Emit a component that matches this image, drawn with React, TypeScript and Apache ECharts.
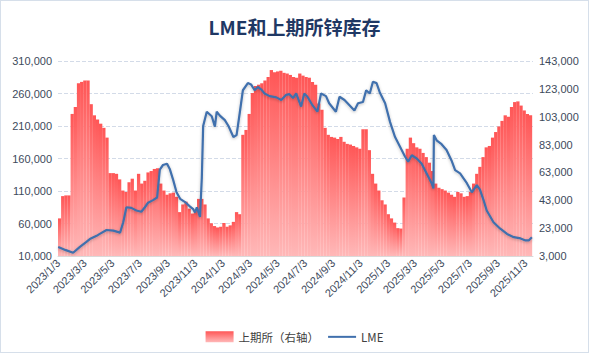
import React, { useEffect, useRef } from 'react';
import * as echarts from 'echarts';

// ---------- Data ----------
const firstDay = '2023/1/3';
const lastDay = '2025/11/19';

// calendar-day categories of the date axis
function buildDays(start: string, end: string): string[] {
  const [ys, ms, ds] = start.split('/').map(Number);
  const [ye, me, de] = end.split('/').map(Number);
  const out: string[] = [];
  let t = Date.UTC(ys, ms - 1, ds);
  const tEnd = Date.UTC(ye, me - 1, de);
  while (t <= tEnd) {
    const d = new Date(t);
    out.push(`${d.getUTCFullYear()}/${d.getUTCMonth() + 1}/${d.getUTCDate()}`);
    t += 86400000;
  }
  return out;
}
const dayCategories = buildDays(firstDay, lastDay);

// months whose day-3 carries a tick label
const labelMonths = [1, 3, 5, 7, 9, 11];
const labelDay = 3;

// SHFE zinc inventory (right axis), one value per week starting 2023/1/3
const shfeWeekly = [
  30000, 46000, 46500, 46500, 105000, 110000, 127000, 128000, 129000, 129000,
  112000, 104000, 101000, 98000, 95000, 88000, 62500, 62500, 62000, 58000,
  50000, 49000, 56000, 58500, 50000, 62000, 55000, 57000, 63000, 64000,
  65500, 66000, 55000, 50000, 47000, 48000, 48500, 45500, 34500, 40000,
  42000, 37000, 33500, 36000, 44000, 44000, 40000, 30000, 26500, 24500,
  23500, 24000, 26700, 24000, 25000, 27500, 34500, 33000, 90000, 93500,
  105000, 120000, 125000, 126000, 127000, 129000, 131500, 136500, 135000, 135500,
  136000, 134500, 134000, 133000, 131500, 131000, 134000, 132500, 131500, 131000,
  128000, 126000, 112500, 108000, 95000, 90000, 88500, 88000, 87000, 88500,
  85000, 83500, 83000, 82000, 81000, 80000, 94000, 94000, 79000, 62000,
  55000, 50000, 43000, 40000, 33000, 30000, 27000, 23000, 22700, 45000,
  80000, 88000, 84000, 81000, 80000, 77000, 74000, 70000, 64000, 55000,
  52000, 51000, 50000, 48500, 47000, 45500, 49000, 48000, 45500, 46000,
  49000, 55000, 62000, 67000, 74000, 81000, 82000, 88000, 92000, 96000,
  100000, 104000, 103000, 110000, 113500, 114000, 111000, 107500, 105000, 104000,
];
const daysPerWeek = 7;

// LME zinc inventory (left axis)
const lmeDates = [
  '2023/1/3', '2023/1/20', '2023/2/5', '2023/2/20', '2023/3/5', '2023/3/14', '2023/3/29', '2023/4/5',
  '2023/4/20', '2023/5/5', '2023/5/20', '2023/5/27', '2023/6/3', '2023/6/14', '2023/6/25', '2023/7/6',
  '2023/7/14', '2023/7/21', '2023/8/1', '2023/8/10', '2023/8/16', '2023/8/23', '2023/9/1', '2023/9/7',
  '2023/9/15', '2023/9/22', '2023/9/30', '2023/10/11', '2023/10/22', '2023/10/29', '2023/11/2', '2023/11/6',
  '2023/11/13', '2023/11/17', '2023/11/20', '2023/11/28', '2023/12/9', '2023/12/16', '2023/12/20', '2023/12/27',
  '2024/1/7', '2024/1/15', '2024/1/26', '2024/2/2', '2024/2/9', '2024/2/16', '2024/2/27', '2024/3/5',
  '2024/3/13', '2024/3/20', '2024/3/28', '2024/4/4', '2024/4/15', '2024/4/30', '2024/5/11', '2024/5/22',
  '2024/5/29', '2024/6/6', '2024/6/13', '2024/6/20', '2024/6/24', '2024/7/1', '2024/7/8', '2024/7/19',
  '2024/7/30', '2024/8/7', '2024/8/18', '2024/8/25', '2024/9/9', '2024/9/17', '2024/9/28', '2024/10/9',
  '2024/10/20', '2024/10/28', '2024/11/8', '2024/11/15', '2024/11/23', '2024/11/30', '2024/12/8', '2024/12/15',
  '2024/12/27', '2025/1/7', '2025/1/18', '2025/1/29', '2025/2/9', '2025/2/16', '2025/2/24', '2025/3/7',
  '2025/3/18', '2025/3/29', '2025/4/9', '2025/4/13', '2025/4/14', '2025/4/20', '2025/5/1', '2025/5/12',
  '2025/5/23', '2025/5/31', '2025/6/11', '2025/6/26', '2025/7/7', '2025/7/18', '2025/7/25', '2025/8/2',
  '2025/8/9', '2025/8/24', '2025/9/8', '2025/9/23', '2025/10/8', '2025/10/23', '2025/11/3', '2025/11/10',
  '2025/11/17',
];
const lmeValues = [
  24000, 19000, 15000, 24000, 31000, 36000, 41000, 44000,
  50000, 49000, 46000, 62000, 85000, 84000, 80000, 78000,
  85000, 92000, 96000, 100000, 143000, 150000, 152000, 144000,
  126000, 108000, 98000, 93000, 86000, 82000, 77000, 85000,
  70000, 130000, 210000, 232000, 225000, 209000, 232000, 226000,
  219000, 210000, 193000, 196000, 230000, 265000, 276000, 274000,
  265000, 270000, 266000, 260000, 256000, 254000, 250000, 258000,
  259000, 253000, 260000, 247000, 240000, 260000, 255000, 242000,
  232000, 260000, 256000, 245000, 232000, 255000, 250000, 242000,
  234000, 245000, 247000, 265000, 260000, 278000, 276000, 262000,
  245000, 216000, 193000, 178000, 163000, 155000, 165000, 160000,
  152000, 137000, 122000, 114000, 196000, 188000, 182000, 173000,
  157000, 142000, 137000, 122000, 108000, 119000, 112000, 96000,
  80000, 62000, 52000, 44000, 39000, 37000, 34000, 34000,
  39000,
];

// axis tick settings
const leftAxis = { min: 10000, max: 310000, step: 50000 };
const rightAxis = { min: 3000, max: 143000, step: 20000 };

const seriesNames = { shfe: '上期所（右轴）', lme: 'LME' };
const titleText = 'LME和上期所锌库存';

// ---------- Component ----------
export default function App() {
  const ref = useRef<HTMLDivElement>(null);

  useEffect(() => {
    document.body.style.margin = '0';
    if (!ref.current) return;
    const chart = echarts.init(ref.current, undefined, { renderer: 'svg' });

    const indexOf: Record<string, number> = {};
    dayCategories.forEach((d, i) => (indexOf[d] = i));

    const shfeData = shfeWeekly.map((v, k) => [k * daysPerWeek + 3, v]);
    const lmeData = lmeDates.map((d, i) => [indexOf[d], lmeValues[i]]);

    const isLabelDay = (_idx: number, val: string) => {
      const parts = String(val).split('/').map(Number);
      return parts[2] === labelDay && labelMonths.indexOf(parts[1]) >= 0;
    };

    const fmt = (v: number) => v.toLocaleString('en-US');
    const labelColor = '#3d4a5c';
    const labelFont = 'Liberation Sans, Arial, sans-serif';
    const lineColor = '#4070ad';

    const option: any = {
      animation: false,
      backgroundColor: '#ffffff',
      title: {
        text: titleText,
        left: 'center',
        top: 12,
        textStyle: {
          fontFamily: 'Noto Sans CJK SC',
          fontSize: 19,
          fontWeight: 'bold',
          color: '#1f3864',
        },
      },
      legend: {
        top: 326,
        left: 'center',
        itemWidth: 28,
        itemHeight: 11,
        itemGap: 9,
        textStyle: { fontFamily: 'Noto Sans CJK SC', fontSize: 11.5, color: '#404040' },
        data: [
          { name: seriesNames.shfe, icon: 'rect' },
          {
            name: seriesNames.lme,
            icon: 'path://M0,0 M0,11 M0,4.6 L28,4.6 L28,6.6 L0,6.6 Z',
            itemStyle: { color: lineColor },
          },
        ],
      },
      grid: { left: 58, right: 56, top: 61, bottom: 97, containLabel: false },
      xAxis: {
        type: 'category',
        data: dayCategories,
        boundaryGap: true,
        axisLine: { lineStyle: { color: '#d9d9d9', width: 1 } },
        axisTick: {
          interval: isLabelDay,
          alignWithLabel: true,
          length: 4,
          lineStyle: { color: '#bfbfbf' },
        },
        axisLabel: {
          interval: isLabelDay,
          rotate: 45,
          margin: 5,
          fontSize: 11,
          color: labelColor,
          fontFamily: labelFont,
        },
        splitLine: { show: false },
      },
      yAxis: [
        {
          type: 'value',
          position: 'left',
          min: leftAxis.min,
          max: leftAxis.max,
          interval: leftAxis.step,
          axisLine: { show: false },
          axisTick: { show: false },
          axisLabel: { formatter: fmt, fontSize: 11, color: labelColor, fontFamily: labelFont, margin: 6 },
          splitLine: { lineStyle: { type: 'dashed', color: '#d3dbe8', width: 1 } },
        },
        {
          type: 'value',
          position: 'right',
          min: rightAxis.min,
          max: rightAxis.max,
          interval: rightAxis.step,
          axisLine: { show: false },
          axisTick: { show: false },
          axisLabel: { formatter: fmt, fontSize: 11, color: labelColor, fontFamily: labelFont, margin: 6 },
          splitLine: { show: false },
        },
      ],
      series: [
        {
          name: seriesNames.shfe,
          type: 'bar',
          yAxisIndex: 1,
          data: shfeData,
          barWidth: 3.3,
          itemStyle: {
            color: new echarts.graphic.LinearGradient(0, 0, 0, 1, [
              { offset: 0, color: '#ff5656' },
              { offset: 1, color: '#ffb8b8' },
            ]),
          },
        },
        {
          name: seriesNames.lme,
          type: 'line',
          yAxisIndex: 0,
          data: lmeData,
          symbol: 'none',
          showSymbol: false,
          lineStyle: {
            color: lineColor,
            width: 2.2,
            shadowColor: 'rgba(0,0,0,0.25)',
            shadowBlur: 3,
            shadowOffsetY: 1,
          },
          itemStyle: { color: lineColor },
          z: 5,
        },
      ],
    };

    chart.setOption(option);
    return () => chart.dispose();
  }, []);

  return (
    <div style={{ position: 'absolute', left: 0, top: 0, width: 589, height: 353 }}>
      <div ref={ref} style={{ width: 589, height: 353 }} />
      <div
        style={{
          position: 'absolute',
          left: 0,
          top: 0,
          width: 589,
          height: 353,
          boxSizing: 'border-box',
          border: '1px solid #d6dfea',
          pointerEvents: 'none',
        }}
      />
    </div>
  );
}
